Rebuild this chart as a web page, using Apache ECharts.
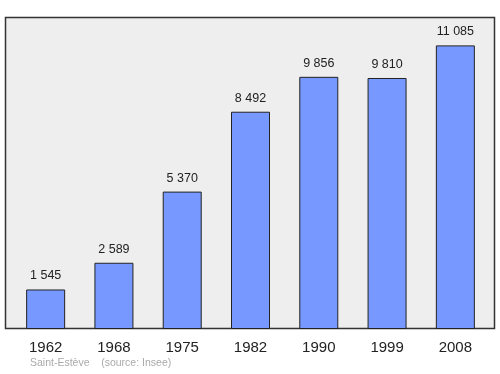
<!DOCTYPE html>
<html><head><meta charset="utf-8">
<script src="https://cdn.jsdelivr.net/npm/echarts@6/dist/echarts.min.js"></script>
<style>html,body{margin:0;padding:0;background:#fff}#c{width:500px;height:374px}</style>
</head><body><div id="c"></div>
<script>
var years = ['1962','1968','1975','1982','1990','1999','2008'];
var population = [1545, 2589, 5370, 8492, 9856, 9810, 11085];
var footer = 'Saint-Estève    (source: Insee)';
function fmt(v){ return String(v).replace(/\B(?=(\d{3})+(?!\d))/g, ' '); }
var chart = echarts.init(document.getElementById('c'), null, {renderer:'canvas'});
chart.setOption({
  animation:false,
  graphic:[
    {type:'rect', shape:{x:5.5,y:17.5,width:489,height:311}, style:{fill:'#eeeeee', stroke:'#333333', lineWidth:1.5}, z:0},
    {type:'text', left:30, top:358, style:{text:footer, fill:'#aaaaaa', fontSize:10.5, fontFamily:'Liberation Sans, Arial, sans-serif'}}
  ],
  grid:{left:11.5, right:10.5, top:17, bottom:45, containLabel:false},
  xAxis:{type:'category', data:years, axisLine:{show:false}, axisTick:{show:false},
    axisLabel:{fontSize:15, color:'#222', margin:11, fontFamily:'Liberation Sans, Arial, sans-serif'}},
  yAxis:{type:'value', min:0, max:12194, show:false, splitLine:{show:false}},
  series:[{type:'bar', data:population, barWidth:39, z:3,
    itemStyle:{color:'#7799ff', borderColor:'#222', borderWidth:1},
    label:{show:true, position:'top', distance:7, fontSize:12.5, color:'#222', fontFamily:'Liberation Sans, Arial, sans-serif',
      formatter:function(p){return fmt(p.value);}}
  }]
});
</script></body></html>
